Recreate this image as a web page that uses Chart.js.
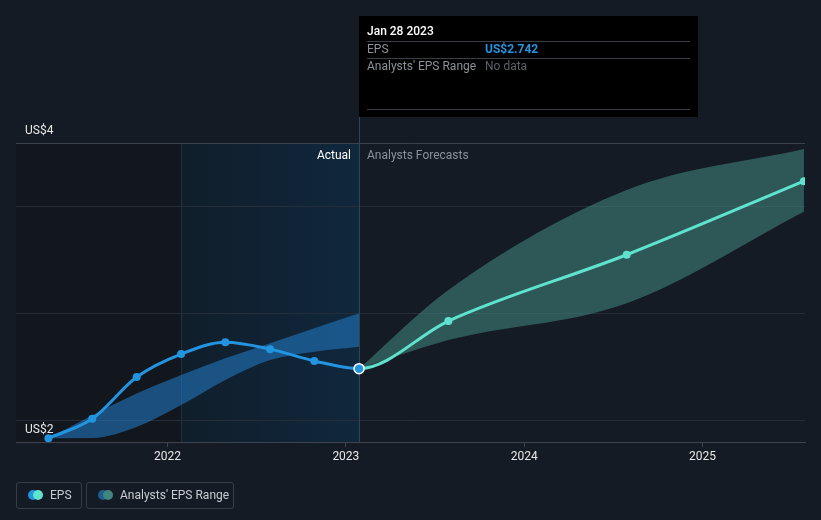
<!DOCTYPE html>
<html><head><meta charset="utf-8">
<script src="https://cdn.jsdelivr.net/npm/chart.js@4.4.0/dist/chart.umd.min.js"></script>
<style>
html,body{margin:0;padding:0;background:#151b24;}
#wrap{position:relative;width:821px;height:520px;overflow:hidden;}
canvas{display:block;}
.leg{position:absolute;top:482px;height:27px;box-sizing:border-box;border:1px solid #363d47;border-radius:3px;font:12px Roboto, sans-serif;color:#c8ccd2;}
.leg .dot{position:absolute;width:10px;height:10px;border-radius:50%;top:7px;}
.leg .t{position:absolute;top:5px;white-space:nowrap;}
</style></head>
<body><div id="wrap"><canvas id="c" width="821" height="520"></canvas>
<div class="leg" style="left:16px;width:66px"><span class="dot" style="left:11px;background:#2394df"></span><span class="dot" style="left:16px;background:#5fe3cd"></span><span class="t" style="left:33px">EPS</span></div>
<div class="leg" style="left:86px;width:148px"><span class="dot" style="left:11px;background:#1f5d8c"></span><span class="dot" style="left:16px;background:#3f877e"></span><span class="t" style="left:33px">Analysts' EPS Range</span></div>
</div>
<script>
// ---- data ----
const actualDates = [2021.332, 2021.578, 2021.827, 2022.076, 2022.324, 2022.575, 2022.823, 2023.074];
const actualEps   = [2.418, 2.508, 2.703, 2.810, 2.865, 2.833, 2.778, 2.742];
const forecastDates = [2023.575, 2024.575, 2025.569];
const forecastEps   = [2.964, 3.273, 3.616];
const pastRangeLow  = [2.418, 2.419, 2.470, 2.572, 2.689, 2.782, 2.821, 2.844];
const pastRangeHigh = [2.418, 2.525, 2.626, 2.712, 2.790, 2.860, 2.930, 3.000];
const fcRangeDates = [2023.074, 2023.575, 2024.575, 2025.569];
const fcRangeLow   = [2.742, 2.875, 3.047, 3.474];
const fcRangeHigh  = [2.742, 3.109, 3.575, 3.766];
const yearTicks = [2022, 2023, 2024, 2025];
const yGridValues = [2.5, 3.0, 3.5];
const yMin = 2.4, yMax = 3.794;
const yMinLabel = 'US$2', yMaxLabel = 'US$4';
const xMin = 2021.15, xMax = 2025.575;
const highlightStart = 2022.076;
const nowDate = 2023.074;
const tipTitle = 'Jan 28 2023';
const tipRows = [['EPS', 'US$2.742'], ["Analysts' EPS Range", 'No data']];

const BLUE = '#2394df', TEAL = '#5fe3cd';
const FONT = 'Roboto, "Open Sans", sans-serif';
const pts = (xs, ys) => xs.map((x, i) => ({x, y: ys[i]}));
const lineData = pts(actualDates.concat(forecastDates), actualEps.concat(forecastEps));
const nowIdx = actualDates.length - 1;

const bgPlugin = {
  id: 'bg',
  beforeDraw(chart) {
    const {ctx, chartArea: a, scales: {x}} = chart;
    ctx.save();
    ctx.fillStyle = '#151b24';
    ctx.fillRect(0, 0, chart.width, chart.height);
    const xh = x.getPixelForValue(highlightStart), xn = x.getPixelForValue(nowDate);
    ctx.fillStyle = '#12161d';
    ctx.fillRect(a.left, a.top, xh - a.left, a.bottom - a.top);
    const g = ctx.createLinearGradient(xh, 0, xn, 0);
    g.addColorStop(0, '#101e2b');
    g.addColorStop(1, '#10273c');
    ctx.fillStyle = g;
    ctx.fillRect(xh, a.top, xn - xh, a.bottom - a.top);
    ctx.fillStyle = 'rgba(60,110,150,0.25)';
    ctx.fillRect(Math.round(xh), a.top, 1, a.bottom - a.top);
    ctx.restore();
  },
  beforeDatasetsDraw(chart) {
    const {ctx, chartArea: a, scales: {x}} = chart;
    const xn = Math.round(x.getPixelForValue(nowDate));
    ctx.save();
    ctx.fillStyle = '#2a4658';
    ctx.fillRect(xn, 16, 1, a.bottom - 16);
    ctx.restore();
  },
  afterDraw(chart) {
    const {ctx, chartArea: a, scales: {x}} = chart;
    const xn = Math.round(x.getPixelForValue(nowDate));
    ctx.save();
    ctx.font = '12px ' + FONT;
    ctx.textBaseline = 'middle';
    ctx.textAlign = 'right';
    ctx.fillStyle = '#ffffff';
    ctx.fillText('Actual', xn - 8, a.top + 12.5);
    ctx.textAlign = 'left';
    ctx.fillStyle = '#8b9199';
    ctx.fillText('Analysts Forecasts', xn + 8, a.top + 12.5);
    // tooltip box
    const bx = xn, by = 16, bw = 339, bh = 101;
    ctx.fillStyle = '#000000';
    ctx.fillRect(bx, by, bw, bh);
    ctx.fillStyle = '#ffffff';
    ctx.font = '500 12px ' + FONT;
    ctx.fillText(tipTitle, bx + 8, by + 16);
    ctx.fillStyle = '#3a3f46';
    [41, 58, 109].forEach(yy => ctx.fillRect(bx + 8, yy, bw - 16, 1));
    ctx.font = '12px ' + FONT;
    ctx.fillStyle = '#8b9199';
    ctx.fillText(tipRows[0][0], bx + 8, 50);
    ctx.fillText(tipRows[1][0], bx + 8, 67);
    ctx.font = 'bold 12px ' + FONT;
    ctx.fillStyle = BLUE;
    ctx.fillText(tipRows[0][1], bx + 126, 50);
    ctx.font = '12px ' + FONT;
    ctx.fillStyle = '#5c6169';
    ctx.fillText(tipRows[1][1], bx + 126, 67);
    ctx.restore();
  }
};

new Chart(document.getElementById('c'), {
  type: 'line',
  data: {
    datasets: [
      {data: pts(actualDates, pastRangeLow), borderWidth: 0, pointRadius: 0, fill: false, cubicInterpolationMode: 'monotone', order: 2},
      {data: pts(actualDates, pastRangeHigh), borderWidth: 0, pointRadius: 0, fill: '-1', backgroundColor: 'rgba(34,118,190,0.6)', cubicInterpolationMode: 'monotone', order: 2},
      {data: pts(fcRangeDates, fcRangeLow), borderWidth: 0, pointRadius: 0, fill: false, cubicInterpolationMode: 'monotone', order: 2},
      {data: pts(fcRangeDates, fcRangeHigh), borderWidth: 0, pointRadius: 0, fill: '-1', backgroundColor: 'rgba(68,138,130,0.55)', cubicInterpolationMode: 'monotone', order: 2},
      {
        data: lineData, borderWidth: 3, cubicInterpolationMode: 'monotone', fill: false, order: 0,
        segment: {borderColor: c => c.p0DataIndex >= nowIdx ? TEAL : BLUE},
        borderColor: BLUE,
        pointRadius: c => c.dataIndex === nowIdx ? 5 : 4,
        pointBackgroundColor: c => c.dataIndex <= nowIdx ? BLUE : TEAL,
        pointBorderColor: c => c.dataIndex === nowIdx ? '#ffffff' : (c.dataIndex < nowIdx ? BLUE : TEAL),
        pointBorderWidth: c => c.dataIndex === nowIdx ? 1.5 : 0,
        pointHoverRadius: 4
      }
    ]
  },
  options: {
    responsive: false, animation: false, devicePixelRatio: 1,
    layout: {padding: {left: 16, right: 16, top: 143, bottom: 0}},
    plugins: {legend: {display: false}, tooltip: {enabled: false}},
    events: [],
    scales: {
      x: {
        type: 'linear', min: xMin, max: xMax,
        afterBuildTicks: s => { s.ticks = yearTicks.map(v => ({value: v})); },
        afterFit: s => { s.height = 78; },
        ticks: {color: '#e8e8e8', font: {family: FONT, size: 12}, padding: 3, maxRotation: 0, callback: v => String(v)},
        grid: {drawOnChartArea: false, drawTicks: true, tickLength: 5, color: '#3e4550'},
        border: {display: true, color: '#3e4550', width: 1}
      },
      y: {
        type: 'linear', min: yMin, max: yMax,
        afterBuildTicks: s => { s.ticks = [yMin].concat(yGridValues, [yMax]).map(v => ({value: v})); },
        afterFit: s => { s.width = 0; },
        ticks: {
          mirror: true, padding: 9, labelOffset: -12, color: '#e8e8e8', font: {family: FONT, size: 12},
          callback: v => v === yMin ? yMinLabel : (v === yMax ? yMaxLabel : '')
        },
        grid: {drawTicks: false, color: c => (c.tick && (c.tick.value === yMax || c.tick.value === yMin)) ? '#3b424c' : '#252d38'},
        border: {display: false}
      }
    }
  },
  plugins: [bgPlugin]
});
</script>
</body></html>
